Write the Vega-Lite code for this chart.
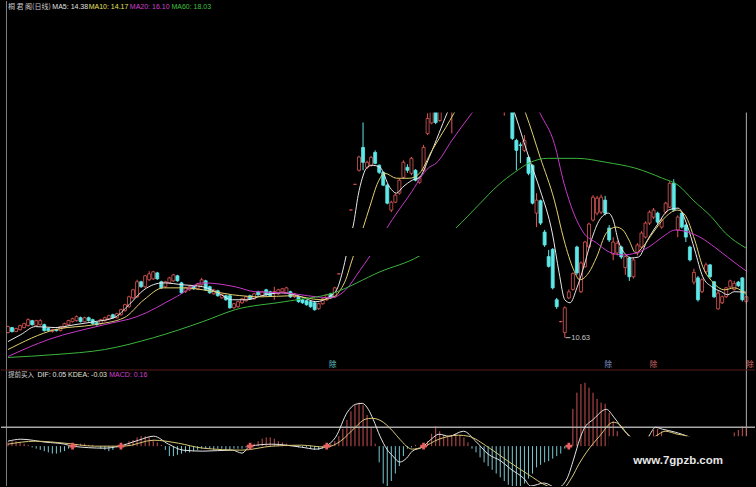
{
"$schema":"https://vega.github.io/schema/vega-lite/v6.json",
"width":756,"height":487,
"autosize":{"type":"fit","contains":"padding"},
"padding":0,
"background":"#000000",
"config":{"view":{"stroke":null},"axis":{"minExtent":0,"maxExtent":0}},
"datasets":{
"k":[
{"i":0,"o":11.05,"c":11.54,"h":11.62,"l":10.98},{"i":1,"o":11.46,"c":11.13,"h":11.52,"l":11.05},{"i":2,"o":11.13,"c":11.38,"h":11.45,"l":11.08},{"i":3,"o":11.29,"c":11.62,"h":11.7,"l":11.22},{"i":4,"o":11.46,"c":11.78,"h":11.86,"l":11.4},{"i":5,"o":11.62,"c":12.11,"h":12.22,"l":11.55},{"i":6,"o":12.03,"c":11.7,"h":12.1,"l":11.62},{"i":7,"o":11.62,"c":12.03,"h":12.1,"l":11.55},{"i":8,"o":11.7,"c":12.03,"h":12.15,"l":11.62},{"i":9,"o":11.7,"c":11.21,"h":11.78,"l":11.13},
{"i":10,"o":11.38,"c":11.21,"h":11.45,"l":11.13},{"i":11,"o":11.13,"c":11.29,"h":11.36,"l":11.05},{"i":12,"o":11.29,"c":11.21,"h":11.36,"l":11.13},{"i":13,"o":11.21,"c":11.54,"h":11.6,"l":11.15},{"i":14,"o":11.46,"c":11.78,"h":11.86,"l":11.4},{"i":15,"o":11.7,"c":12.03,"h":12.1,"l":11.62},{"i":16,"o":11.95,"c":12.19,"h":12.27,"l":11.88},{"i":17,"o":12.03,"c":12.36,"h":12.45,"l":11.95},{"i":18,"o":12.27,"c":11.95,"h":12.36,"l":11.88},{"i":19,"o":11.95,"c":12.27,"h":12.36,"l":11.88},
{"i":20,"o":12.27,"c":12.03,"h":12.36,"l":11.95},{"i":21,"o":12.11,"c":11.78,"h":12.19,"l":11.7},{"i":22,"o":11.86,"c":11.7,"h":11.95,"l":11.62},{"i":23,"o":11.78,"c":12.11,"h":12.19,"l":11.7},{"i":24,"o":12.03,"c":12.27,"h":12.36,"l":11.95},{"i":25,"o":12.19,"c":12.44,"h":12.52,"l":12.11},{"i":26,"o":12.52,"c":12.27,"h":12.6,"l":12.19},{"i":27,"o":12.27,"c":12.6,"h":12.68,"l":12.19},{"i":28,"o":12.52,"c":12.93,"h":13.01,"l":12.44},{"i":29,"o":12.85,"c":13.34,"h":13.42,"l":12.77},
{"i":30,"o":13.18,"c":13.99,"h":14.08,"l":13.09},{"i":31,"o":13.91,"c":14.57,"h":14.65,"l":13.83},{"i":32,"o":13.99,"c":15.23,"h":15.4,"l":13.91},{"i":33,"o":15.23,"c":14.82,"h":15.31,"l":14.73},{"i":34,"o":14.82,"c":15.72,"h":15.8,"l":14.73},{"i":35,"o":15.39,"c":15.88,"h":16.1,"l":15.31},{"i":36,"o":15.47,"c":16.05,"h":16.13,"l":15.39},{"i":37,"o":15.96,"c":15.47,"h":16.05,"l":15.39},{"i":38,"o":15.23,"c":14.73,"h":15.31,"l":14.65},{"i":39,"o":14.82,"c":15.23,"h":15.31,"l":14.73},
{"i":40,"o":15.14,"c":15.55,"h":15.64,"l":15.06},{"i":41,"o":15.31,"c":15.8,"h":15.88,"l":15.23},{"i":42,"o":15.72,"c":15.31,"h":15.8,"l":15.23},{"i":43,"o":15.14,"c":14.32,"h":15.23,"l":14.24},{"i":44,"o":14.41,"c":14.73,"h":14.82,"l":14.32},{"i":45,"o":14.57,"c":14.82,"h":14.9,"l":14.49},{"i":46,"o":14.9,"c":14.65,"h":14.98,"l":14.57},{"i":47,"o":14.65,"c":15.06,"h":15.14,"l":14.57},{"i":48,"o":14.98,"c":15.39,"h":15.55,"l":14.9},{"i":49,"o":15.31,"c":14.57,"h":15.39,"l":14.49},
{"i":50,"o":14.82,"c":14.32,"h":14.9,"l":14.24},{"i":51,"o":14.24,"c":14.57,"h":14.65,"l":14.16},{"i":52,"o":14.49,"c":14.08,"h":14.57,"l":14.0},{"i":53,"o":13.91,"c":14.16,"h":14.24,"l":13.83},{"i":54,"o":14.08,"c":13.75,"h":14.16,"l":13.67},{"i":55,"o":14.08,"c":13.09,"h":14.16,"l":13.01},{"i":56,"o":13.09,"c":13.42,"h":13.5,"l":13.01},{"i":57,"o":13.18,"c":13.59,"h":13.67,"l":13.09},{"i":58,"o":13.5,"c":13.83,"h":13.91,"l":13.42},{"i":59,"o":13.67,"c":13.99,"h":14.08,"l":13.59},
{"i":60,"o":14.08,"c":13.83,"h":14.16,"l":13.75},{"i":61,"o":13.83,"c":14.24,"h":14.32,"l":13.75},{"i":62,"o":14.41,"c":14.16,"h":14.49,"l":14.08},{"i":63,"o":14.08,"c":14.41,"h":14.49,"l":14.0},{"i":64,"o":14.57,"c":14.16,"h":14.65,"l":14.08},{"i":65,"o":14.41,"c":14.08,"h":14.49,"l":14.0},{"i":66,"o":14.41,"c":14.41,"h":14.82,"l":13.75},{"i":67,"o":14.24,"c":14.57,"h":14.65,"l":14.16},{"i":68,"o":14.41,"c":14.65,"h":14.73,"l":14.32},{"i":69,"o":14.32,"c":14.73,"h":14.82,"l":14.24},
{"i":70,"o":14.41,"c":13.99,"h":14.49,"l":13.91},{"i":71,"o":13.99,"c":14.24,"h":14.32,"l":13.91},{"i":72,"o":13.99,"c":13.59,"h":14.08,"l":13.5},{"i":73,"o":13.75,"c":13.5,"h":13.83,"l":13.42},{"i":74,"o":13.67,"c":13.34,"h":13.75,"l":13.26},{"i":75,"o":13.59,"c":13.18,"h":13.67,"l":13.09},{"i":76,"o":13.5,"c":12.93,"h":13.59,"l":12.85},{"i":77,"o":13.01,"c":13.42,"h":13.5,"l":12.93},{"i":78,"o":13.42,"c":13.83,"h":13.91,"l":13.34},{"i":79,"o":13.75,"c":14.16,"h":14.24,"l":13.67},
{"i":80,"o":14.24,"c":13.91,"h":14.32,"l":13.83},{"i":81,"o":13.99,"c":14.73,"h":14.82,"l":13.91},{"i":82,"o":15.88,"c":15.88,"h":15.88,"l":15.88},{"i":83,"o":17.47,"c":17.47,"h":17.47,"l":17.47},{"i":84,"o":19.22,"c":19.22,"h":19.22,"l":19.22},{"i":85,"o":21.14,"c":21.14,"h":21.14,"l":21.14},{"i":86,"o":23.25,"c":23.25,"h":23.25,"l":23.25},{"i":87,"o":24.41,"c":25.5,"h":25.6,"l":24.3},{"i":88,"o":26.29,"c":25.06,"h":28.34,"l":24.41},{"i":89,"o":24.65,"c":25.06,"h":25.2,"l":24.5},
{"i":90,"o":24.82,"c":25.47,"h":25.6,"l":24.7},{"i":91,"o":25.88,"c":24.98,"h":26.05,"l":24.9},{"i":92,"o":24.82,"c":24.24,"h":24.9,"l":24.1},{"i":93,"o":24.24,"c":23.18,"h":24.3,"l":23.1},{"i":94,"o":23.18,"c":21.7,"h":23.3,"l":21.6},{"i":95,"o":21.13,"c":21.78,"h":21.9,"l":20.96},{"i":96,"o":21.78,"c":22.36,"h":22.5,"l":21.7},{"i":97,"o":22.52,"c":23.59,"h":23.7,"l":22.4},{"i":98,"o":23.83,"c":25.06,"h":25.23,"l":23.7},{"i":99,"o":24.65,"c":24.41,"h":24.9,"l":24.2},
{"i":100,"o":24.16,"c":25.39,"h":25.5,"l":24.0},{"i":101,"o":24.41,"c":23.59,"h":24.5,"l":23.5},{"i":102,"o":23.42,"c":23.75,"h":23.9,"l":23.3},{"i":103,"o":24.41,"c":26.29,"h":26.5,"l":24.3},{"i":104,"o":27.44,"c":28.67,"h":29.1,"l":27.3},{"i":105,"o":28.3,"c":29.5,"h":30.0,"l":28.2},{"i":106,"o":29.6,"c":28.34,"h":30.2,"l":28.2},{"i":107,"o":28.5,"c":30.0,"h":30.4,"l":28.4},{"i":108,"o":29.8,"c":31.0,"h":31.3,"l":29.5},{"i":109,"o":30.5,"c":31.5,"h":32.0,"l":30.2},
{"i":110,"o":29.4,"c":31.6,"h":32.0,"l":27.44},{"i":111,"o":31.6,"c":32.5,"h":33.0,"l":31.2},{"i":112,"o":32.4,"c":33.6,"h":34.0,"l":32.0},{"i":113,"o":33.8,"c":33.0,"h":34.4,"l":32.6},{"i":114,"o":33.0,"c":34.6,"h":35.0,"l":32.8},{"i":115,"o":34.6,"c":35.8,"h":36.5,"l":34.2},{"i":116,"o":36.0,"c":34.8,"h":36.8,"l":34.4},{"i":117,"o":34.8,"c":35.9,"h":36.6,"l":34.2},{"i":118,"o":35.5,"c":34.0,"h":36.0,"l":33.6},{"i":119,"o":34.0,"c":33.0,"h":34.5,"l":32.5},
{"i":120,"o":32.8,"c":33.6,"h":34.2,"l":32.2},{"i":121,"o":33.4,"c":31.8,"h":33.8,"l":31.2},{"i":122,"o":31.6,"c":30.4,"h":32.0,"l":29.8},{"i":123,"o":29.6,"c":30.8,"h":31.4,"l":28.9},{"i":124,"o":31.0,"c":30.2,"h":31.4,"l":29.6},{"i":125,"o":30.0,"c":27.03,"h":30.3,"l":26.9},{"i":126,"o":26.86,"c":26.05,"h":27.0,"l":24.41},{"i":127,"o":26.5,"c":26.45,"h":26.7,"l":25.0},{"i":128,"o":26.05,"c":26.86,"h":27.3,"l":25.9},{"i":129,"o":25.47,"c":24.16,"h":25.6,"l":24.0},
{"i":130,"o":24.82,"c":21.7,"h":24.9,"l":21.6},{"i":131,"o":20.88,"c":21.95,"h":22.52,"l":19.73},{"i":132,"o":21.9,"c":20.06,"h":22.0,"l":19.9},{"i":133,"o":19.32,"c":18.26,"h":19.5,"l":18.1},{"i":134,"o":17.3,"c":16.5,"h":17.85,"l":16.4},{"i":135,"o":17.9,"c":14.73,"h":18.0,"l":14.6},{"i":136,"o":13.75,"c":13.18,"h":13.9,"l":13.0},{"i":137,"o":11.95,"c":11.95,"h":12.0,"l":11.9},{"i":138,"o":11.05,"c":13.09,"h":13.2,"l":10.63},{"i":139,"o":13.9,"c":14.4,"h":14.6,"l":13.8},
{"i":140,"o":14.6,"c":15.9,"h":16.0,"l":14.5},{"i":141,"o":18.09,"c":15.96,"h":18.2,"l":15.8},{"i":142,"o":14.41,"c":16.78,"h":16.9,"l":14.3},{"i":143,"o":16.46,"c":18.5,"h":18.6,"l":16.4},{"i":144,"o":18.09,"c":19.98,"h":20.1,"l":18.0},{"i":145,"o":20.31,"c":22.19,"h":22.36,"l":20.2},{"i":146,"o":20.88,"c":22.11,"h":22.3,"l":20.7},{"i":147,"o":20.96,"c":22.19,"h":22.4,"l":20.8},{"i":148,"o":21.95,"c":20.88,"h":22.3,"l":20.7},{"i":149,"o":19.65,"c":18.67,"h":19.9,"l":18.5},
{"i":150,"o":17.5,"c":18.5,"h":18.9,"l":17.0},{"i":151,"o":17.6,"c":18.4,"h":18.6,"l":17.4},{"i":152,"o":18.09,"c":17.27,"h":18.2,"l":17.1},{"i":153,"o":16.4,"c":17.3,"h":17.4,"l":15.8},{"i":154,"o":17.19,"c":15.64,"h":17.3,"l":15.3},{"i":155,"o":15.64,"c":17.03,"h":17.2,"l":15.5},{"i":156,"o":17.6,"c":18.26,"h":18.4,"l":17.4},{"i":157,"o":18.09,"c":19.24,"h":19.4,"l":18.0},{"i":158,"o":18.91,"c":20.06,"h":20.2,"l":18.8},{"i":159,"o":20.06,"c":20.96,"h":21.1,"l":19.9},
{"i":160,"o":20.55,"c":21.13,"h":21.3,"l":20.4},{"i":161,"o":20.88,"c":20.14,"h":21.0,"l":20.0},{"i":162,"o":19.73,"c":20.3,"h":20.5,"l":19.6},{"i":163,"o":20.96,"c":21.7,"h":21.8,"l":20.8},{"i":164,"o":21.37,"c":23.34,"h":23.5,"l":21.3},{"i":165,"o":23.34,"c":21.13,"h":23.67,"l":21.0},{"i":166,"o":19.49,"c":20.55,"h":20.7,"l":18.9},{"i":167,"o":20.88,"c":19.73,"h":21.0,"l":19.6},{"i":168,"o":19.9,"c":18.91,"h":20.0,"l":18.5},{"i":169,"o":18.09,"c":17.03,"h":18.2,"l":16.9},
{"i":170,"o":15.2,"c":16.0,"h":16.3,"l":15.0},{"i":171,"o":15.55,"c":13.75,"h":15.7,"l":13.6},{"i":172,"o":14.41,"c":15.39,"h":15.5,"l":14.3},{"i":173,"o":16.05,"c":16.62,"h":16.8,"l":15.9},{"i":174,"o":16.62,"c":15.64,"h":16.7,"l":15.5},{"i":175,"o":15.23,"c":13.99,"h":15.3,"l":13.9},{"i":176,"o":13.0,"c":14.3,"h":14.5,"l":12.93},{"i":177,"o":13.5,"c":14.0,"h":14.1,"l":13.4},{"i":178,"o":14.0,"c":14.73,"h":14.8,"l":13.9},{"i":179,"o":14.8,"c":15.3,"h":15.4,"l":14.7},
{"i":180,"o":14.6,"c":15.1,"h":15.3,"l":14.5},{"i":181,"o":15.2,"c":14.9,"h":15.3,"l":14.8},{"i":182,"o":15.55,"c":13.75,"h":15.6,"l":13.6},{"i":183,"o":13.6,"c":14.0,"h":14.1,"l":13.4}
],
"ma":[
{"k":"MA5","i":0,"v":10.31},{"k":"MA5","i":3.2,"v":10.88},{"k":"MA5","i":6.8,"v":11.54},{"k":"MA5","i":11.7,"v":11.46},{"k":"MA5","i":16.6,"v":11.7},{"k":"MA5","i":21.5,"v":11.95},{"k":"MA5","i":26.3,"v":12.27},{"k":"MA5","i":30.0,"v":13.34},{"k":"MA5","i":33.7,"v":14.57},{"k":"MA5","i":38.5,"v":15.14},{"k":"MA5","i":43.4,"v":14.98},{"k":"MA5","i":48.3,"v":14.82},{"k":"MA5","i":52.0,"v":14.32},{"k":"MA5","i":55.6,"v":13.75},{"k":"MA5","i":59.3,"v":13.75},{"k":"MA5","i":62.9,"v":14.08},{"k":"MA5","i":67.8,"v":14.32},{"k":"MA5","i":72.7,"v":14.0},{"k":"MA5","i":76.3,"v":13.59},{"k":"MA5","i":80.0,"v":14.08},{"k":"MA5","i":81.7,"v":14.73},{"k":"MA5","i":82.7,"v":15.8},{"k":"MA5","i":83.7,"v":17.19},{"k":"MA5","i":84.6,"v":18.67},{"k":"MA5","i":85.6,"v":19.9},{"k":"MA5","i":86.8,"v":22.36},{"k":"MA5","i":87.8,"v":23.75},{"k":"MA5","i":88.8,"v":24.57},{"k":"MA5","i":90.2,"v":24.82},{"k":"MA5","i":92.2,"v":24.65},{"k":"MA5","i":94.6,"v":23.01},{"k":"MA5","i":96.3,"v":22.52},{"k":"MA5","i":97.8,"v":23.01},{"k":"MA5","i":100.2,"v":23.59},{"k":"MA5","i":102.0,"v":23.83},{"k":"MA5","i":104.4,"v":25.47},{"k":"MA5","i":106.8,"v":27.44},{"k":"MA5","i":108.8,"v":29.08},{"k":"MA5","i":111.7,"v":30.96},{"k":"MA5","i":115.4,"v":33.42},{"k":"MA5","i":119.0,"v":34.24},{"k":"MA5","i":122.7,"v":31.78},{"k":"MA5","i":125.6,"v":29.08},{"k":"MA5","i":129.5,"v":25.06},{"k":"MA5","i":131.9,"v":22.77},{"k":"MA5","i":134.9,"v":19.24},{"k":"MA5","i":136.6,"v":15.96},{"k":"MA5","i":138.0,"v":13.75},{"k":"MA5","i":139.3,"v":13.5},{"k":"MA5","i":141.0,"v":14.73},{"k":"MA5","i":142.7,"v":16.46},{"k":"MA5","i":144.6,"v":18.67},{"k":"MA5","i":146.6,"v":20.31},{"k":"MA5","i":148.8,"v":20.88},{"k":"MA5","i":150.0,"v":20.31},{"k":"MA5","i":151.2,"v":18.67},{"k":"MA5","i":153.2,"v":17.44},{"k":"MA5","i":154.4,"v":17.19},{"k":"MA5","i":156.3,"v":17.27},{"k":"MA5","i":158.5,"v":18.67},{"k":"MA5","i":161.2,"v":20.06},{"k":"MA5","i":163.7,"v":21.13},{"k":"MA5","i":166.1,"v":21.29},{"k":"MA5","i":168.3,"v":19.9},{"k":"MA5","i":170.2,"v":17.85},{"k":"MA5","i":172.2,"v":15.64},{"k":"MA5","i":174.4,"v":14.82},{"k":"MA5","i":176.8,"v":14.41},{"k":"MA5","i":178.3,"v":14.16},{"k":"MA5","i":180.0,"v":14.41},{"k":"MA5","i":182.9,"v":14.38},
{"k":"MA10","i":0,"v":9.65},{"k":"MA10","i":11.7,"v":11.29},{"k":"MA10","i":21.5,"v":11.7},{"k":"MA10","i":28.8,"v":12.27},{"k":"MA10","i":33.7,"v":13.75},{"k":"MA10","i":38.5,"v":14.73},{"k":"MA10","i":43.4,"v":14.73},{"k":"MA10","i":48.3,"v":14.57},{"k":"MA10","i":55.6,"v":14.16},{"k":"MA10","i":62.9,"v":13.99},{"k":"MA10","i":70.2,"v":14.08},{"k":"MA10","i":77.6,"v":13.75},{"k":"MA10","i":81.2,"v":14.08},{"k":"MA10","i":82.4,"v":14.57},{"k":"MA10","i":83.7,"v":15.39},{"k":"MA10","i":84.9,"v":16.62},{"k":"MA10","i":86.1,"v":17.85},{"k":"MA10","i":87.3,"v":18.91},{"k":"MA10","i":88.0,"v":19.65},{"k":"MA10","i":89.8,"v":21.54},{"k":"MA10","i":91.7,"v":23.42},{"k":"MA10","i":93.4,"v":24.16},{"k":"MA10","i":96.3,"v":23.75},{"k":"MA10","i":99.5,"v":23.75},{"k":"MA10","i":102.0,"v":24.16},{"k":"MA10","i":105.1,"v":26.05},{"k":"MA10","i":108.5,"v":27.93},{"k":"MA10","i":110.5,"v":29.08},{"k":"MA10","i":114.1,"v":31.37},{"k":"MA10","i":119.0,"v":33.01},{"k":"MA10","i":123.9,"v":32.19},{"k":"MA10","i":128.3,"v":29.08},{"k":"MA10","i":131.9,"v":25.47},{"k":"MA10","i":135.4,"v":21.95},{"k":"MA10","i":137.8,"v":18.67},{"k":"MA10","i":140.2,"v":16.21},{"k":"MA10","i":141.7,"v":15.39},{"k":"MA10","i":143.9,"v":15.96},{"k":"MA10","i":145.9,"v":17.27},{"k":"MA10","i":148.3,"v":19.24},{"k":"MA10","i":150.7,"v":19.73},{"k":"MA10","i":152.4,"v":19.49},{"k":"MA10","i":153.9,"v":18.67},{"k":"MA10","i":155.6,"v":17.6},{"k":"MA10","i":157.3,"v":18.09},{"k":"MA10","i":159.8,"v":19.24},{"k":"MA10","i":162.9,"v":20.55},{"k":"MA10","i":165.9,"v":21.13},{"k":"MA10","i":167.8,"v":20.72},{"k":"MA10","i":170.2,"v":18.67},{"k":"MA10","i":172.2,"v":16.46},{"k":"MA10","i":174.6,"v":15.23},{"k":"MA10","i":177.6,"v":14.57},{"k":"MA10","i":180.0,"v":14.73},{"k":"MA10","i":182.9,"v":14.2},
{"k":"MA20","i":0,"v":9.08},{"k":"MA20","i":10.0,"v":10.47},{"k":"MA20","i":23.9,"v":11.7},{"k":"MA20","i":32.0,"v":12.36},{"k":"MA20","i":41.7,"v":13.99},{"k":"MA20","i":48.3,"v":15.14},{"k":"MA20","i":56.3,"v":14.82},{"k":"MA20","i":61.2,"v":14.41},{"k":"MA20","i":68.5,"v":14.32},{"k":"MA20","i":80.0,"v":13.91},{"k":"MA20","i":83.7,"v":14.57},{"k":"MA20","i":87.3,"v":16.21},{"k":"MA20","i":91.0,"v":18.01},{"k":"MA20","i":93.9,"v":19.65},{"k":"MA20","i":99.5,"v":22.36},{"k":"MA20","i":104.4,"v":24.65},{"k":"MA20","i":106.1,"v":24.98},{"k":"MA20","i":110.0,"v":26.86},{"k":"MA20","i":114.9,"v":29.08},{"k":"MA20","i":121.5,"v":31.78},{"k":"MA20","i":127.6,"v":32.19},{"k":"MA20","i":131.9,"v":29.08},{"k":"MA20","i":135.4,"v":26.62},{"k":"MA20","i":137.8,"v":23.34},{"k":"MA20","i":140.2,"v":20.88},{"k":"MA20","i":142.7,"v":19.24},{"k":"MA20","i":145.9,"v":18.42},{"k":"MA20","i":149.0,"v":17.68},{"k":"MA20","i":152.4,"v":17.44},{"k":"MA20","i":155.6,"v":17.6},{"k":"MA20","i":158.8,"v":18.09},{"k":"MA20","i":162.2,"v":18.91},{"k":"MA20","i":165.4,"v":19.49},{"k":"MA20","i":168.5,"v":19.32},{"k":"MA20","i":171.9,"v":18.83},{"k":"MA20","i":175.1,"v":18.09},{"k":"MA20","i":178.3,"v":17.27},{"k":"MA20","i":181.2,"v":16.54},{"k":"MA20","i":182.9,"v":16.13},
{"k":"MA60","i":0,"v":9.0},{"k":"MA60","i":11.7,"v":9.24},{"k":"MA60","i":23.9,"v":9.65},{"k":"MA60","i":36.1,"v":10.63},{"k":"MA60","i":48.3,"v":11.95},{"k":"MA60","i":56.3,"v":12.93},{"k":"MA60","i":68.5,"v":13.59},{"k":"MA60","i":80.7,"v":14.32},{"k":"MA60","i":92.2,"v":16.05},{"k":"MA60","i":102.0,"v":17.36},{"k":"MA60","i":111.0,"v":19.65},{"k":"MA60","i":116.6,"v":21.54},{"k":"MA60","i":121.5,"v":23.18},{"k":"MA60","i":125.6,"v":24.24},{"k":"MA60","i":129.5,"v":25.06},{"k":"MA60","i":133.7,"v":25.39},{"k":"MA60","i":141.0,"v":25.39},{"k":"MA60","i":148.3,"v":25.06},{"k":"MA60","i":155.6,"v":24.57},{"k":"MA60","i":162.2,"v":23.75},{"k":"MA60","i":166.1,"v":23.18},{"k":"MA60","i":169.8,"v":21.95},{"k":"MA60","i":174.4,"v":20.55},{"k":"MA60","i":177.8,"v":19.24},{"k":"MA60","i":182.9,"v":18.01}
],
"h":[
{"i":0,"v":0.03},{"i":1,"v":0.04},{"i":2,"v":0.04},{"i":3,"v":0.03},{"i":4,"v":0.02},{"i":5,"v":0.01},{"i":6,"v":-0.01},{"i":7,"v":-0.02},{"i":8,"v":-0.03},{"i":9,"v":-0.04},{"i":10,"v":-0.05},{"i":11,"v":-0.06},{"i":12,"v":-0.06},{"i":13,"v":-0.05},{"i":14,"v":-0.04},{"i":15,"v":-0.02},{"i":16,"v":0.0},{"i":17,"v":0.01},{"i":18,"v":0.02},{"i":19,"v":0.02},{"i":20,"v":0.01},{"i":21,"v":0.01},{"i":22,"v":0.0},{"i":23,"v":-0.02},{"i":24,"v":-0.03},{"i":25,"v":-0.04},{"i":26,"v":-0.03},{"i":27,"v":-0.01},{"i":28,"v":0.01},{"i":29,"v":0.02},{"i":30,"v":0.04},{"i":31,"v":0.05},{"i":32,"v":0.07},{"i":33,"v":0.08},{"i":34,"v":0.08},{"i":35,"v":0.07},{"i":36,"v":0.05},{"i":37,"v":0.03},{"i":38,"v":0.01},{"i":39,"v":-0.03},
{"i":40,"v":-0.08},{"i":41,"v":-0.08},{"i":42,"v":-0.07},{"i":43,"v":-0.06},{"i":44,"v":-0.05},{"i":45,"v":-0.05},{"i":46,"v":-0.04},{"i":47,"v":-0.03},{"i":48,"v":-0.02},{"i":49,"v":-0.02},{"i":50,"v":-0.02},{"i":51,"v":-0.03},{"i":52,"v":-0.02},{"i":53,"v":-0.02},{"i":54,"v":-0.03},{"i":55,"v":-0.03},{"i":56,"v":-0.02},{"i":57,"v":-0.02},{"i":58,"v":-0.02},{"i":59,"v":-0.01},{"i":60,"v":0.0},{"i":61,"v":0.02},{"i":62,"v":0.04},{"i":63,"v":0.06},{"i":64,"v":0.07},{"i":65,"v":0.07},{"i":66,"v":0.06},{"i":67,"v":0.04},{"i":68,"v":0.03},{"i":69,"v":0.02},{"i":70,"v":0.01},{"i":71,"v":0.01},{"i":72,"v":-0.01},{"i":73,"v":-0.01},{"i":74,"v":-0.01},{"i":75,"v":-0.02},{"i":76,"v":-0.03},{"i":77,"v":-0.03},{"i":78,"v":-0.02},{"i":79,"v":0.0},
{"i":80,"v":0.02},{"i":81,"v":0.04},{"i":82,"v":0.08},{"i":83,"v":0.14},{"i":84,"v":0.21},{"i":85,"v":0.28},{"i":86,"v":0.33},{"i":87,"v":0.35},{"i":88,"v":0.33},{"i":89,"v":0.25},{"i":90,"v":0.15},{"i":91,"v":0.02},{"i":92,"v":-0.13},{"i":93,"v":-0.3},{"i":94,"v":-0.33},{"i":95,"v":-0.28},{"i":96,"v":-0.22},{"i":97,"v":-0.16},{"i":98,"v":-0.08},{"i":99,"v":-0.02},{"i":100,"v":-0.01},{"i":101,"v":0.01},{"i":102,"v":0.0},{"i":103,"v":0.02},{"i":104,"v":0.04},{"i":105,"v":0.1},{"i":106,"v":0.16},{"i":107,"v":0.12},{"i":108,"v":0.09},{"i":109,"v":0.08},{"i":110,"v":0.09},{"i":111,"v":0.1},{"i":112,"v":0.09},{"i":113,"v":0.07},{"i":114,"v":0.03},{"i":115,"v":-0.02},{"i":116,"v":-0.05},{"i":117,"v":-0.09},{"i":118,"v":-0.13},{"i":119,"v":-0.16},
{"i":120,"v":-0.19},{"i":121,"v":-0.22},{"i":122,"v":-0.25},{"i":123,"v":-0.28},{"i":124,"v":-0.31},{"i":125,"v":-0.34},{"i":126,"v":-0.33},{"i":127,"v":-0.32},{"i":128,"v":-0.3},{"i":129,"v":-0.26},{"i":130,"v":-0.22},{"i":131,"v":-0.17},{"i":132,"v":-0.15},{"i":133,"v":-0.13},{"i":134,"v":-0.12},{"i":135,"v":-0.1},{"i":136,"v":-0.08},{"i":137,"v":-0.06},{"i":138,"v":-0.02},{"i":139,"v":0.02},{"i":140,"v":0.3},{"i":141,"v":0.43},{"i":142,"v":0.5},{"i":143,"v":0.51},{"i":144,"v":0.47},{"i":145,"v":0.43},{"i":146,"v":0.38},{"i":147,"v":0.35},{"i":148,"v":0.34},{"i":149,"v":0.27},{"i":150,"v":0.2},{"i":151,"v":0.12},{"i":152,"v":0.05},{"i":153,"v":0.0},{"i":154,"v":-0.05},{"i":155,"v":-0.04},{"i":156,"v":-0.02},{"i":157,"v":0.02},{"i":158,"v":0.05},{"i":159,"v":0.09},
{"i":160,"v":0.13},{"i":161,"v":0.14},{"i":162,"v":0.12},{"i":163,"v":0.07},{"i":164,"v":0.05},{"i":165,"v":0.06},{"i":166,"v":0.02},{"i":167,"v":-0.05},{"i":168,"v":-0.1},{"i":169,"v":-0.15},{"i":170,"v":-0.2},{"i":171,"v":-0.22},{"i":172,"v":-0.2},{"i":173,"v":-0.18},{"i":174,"v":-0.17},{"i":175,"v":-0.15},{"i":176,"v":-0.12},{"i":177,"v":-0.08},{"i":178,"v":-0.04},{"i":179,"v":0.02},{"i":180,"v":0.11},{"i":181,"v":0.13},{"i":182,"v":0.16},{"i":183,"v":0.16}
],
"dl":[
{"k":"DIF","i":0,"v":0.04},{"k":"DIF","i":3.2,"v":0.056},{"k":"DIF","i":9.3,"v":0.032},{"k":"DIF","i":14.1,"v":0.016},{"k":"DIF","i":15.9,"v":0.0},{"k":"DIF","i":23.9,"v":-0.016},{"k":"DIF","i":27.6,"v":0.0},{"k":"DIF","i":32.4,"v":0.048},{"k":"DIF","i":36.1,"v":0.08},{"k":"DIF","i":39.8,"v":0.016},{"k":"DIF","i":43.4,"v":-0.032},{"k":"DIF","i":48.3,"v":-0.04},{"k":"DIF","i":55.6,"v":-0.032},{"k":"DIF","i":58.0,"v":-0.056},{"k":"DIF","i":60.0,"v":0.0},{"k":"DIF","i":65.4,"v":0.016},{"k":"DIF","i":72.7,"v":-0.008},{"k":"DIF","i":76.3,"v":-0.024},{"k":"DIF","i":78.8,"v":0.0},{"k":"DIF","i":81.2,"v":0.072},{"k":"DIF","i":84.1,"v":0.272},{"k":"DIF","i":86.1,"v":0.336},{"k":"DIF","i":87.8,"v":0.344},{"k":"DIF","i":89.3,"v":0.296},{"k":"DIF","i":90.5,"v":0.216},{"k":"DIF","i":92.2,"v":0.08},{"k":"DIF","i":93.9,"v":-0.024},{"k":"DIF","i":95.4,"v":-0.08},{"k":"DIF","i":97.1,"v":-0.128},{"k":"DIF","i":98.8,"v":-0.096},{"k":"DIF","i":100.2,"v":-0.04},{"k":"DIF","i":102.7,"v":-0.008},{"k":"DIF","i":104.9,"v":0.056},{"k":"DIF","i":106.8,"v":0.096},{"k":"DIF","i":109.3,"v":0.08},{"k":"DIF","i":112.9,"v":0.12},{"k":"DIF","i":115.9,"v":0.04},{"k":"DIF","i":119.0,"v":-0.064},{"k":"DIF","i":122.2,"v":-0.12},{"k":"DIF","i":124.6,"v":-0.184},{"k":"DIF","i":128.0,"v":-0.264},{"k":"DIF","i":129.5,"v":-0.32},{"k":"DIF","i":132.9,"v":-0.296},{"k":"DIF","i":136.1,"v":-0.336},{"k":"DIF","i":138.5,"v":-0.264},{"k":"DIF","i":140.2,"v":-0.104},{"k":"DIF","i":141.7,"v":0.056},{"k":"DIF","i":142.7,"v":0.136},{"k":"DIF","i":145.1,"v":0.216},{"k":"DIF","i":148.3,"v":0.296},{"k":"DIF","i":150.2,"v":0.232},{"k":"DIF","i":152.4,"v":0.136},{"k":"DIF","i":154.4,"v":0.072},{"k":"DIF","i":156.8,"v":0.016},{"k":"DIF","i":158.8,"v":0.08},{"k":"DIF","i":160.5,"v":0.152},{"k":"DIF","i":162.2,"v":0.136},{"k":"DIF","i":165.4,"v":0.112},{"k":"DIF","i":168.5,"v":0.072},{"k":"DIF","i":171.5,"v":-0.024},{"k":"DIF","i":175.1,"v":-0.088},{"k":"DIF","i":178.8,"v":-0.04},{"k":"DIF","i":182.9,"v":0.048},
{"k":"DEA","i":0,"v":0.016},{"k":"DEA","i":6.8,"v":0.04},{"k":"DEA","i":14.1,"v":0.024},{"k":"DEA","i":21.5,"v":0.0},{"k":"DEA","i":28.8,"v":0.0},{"k":"DEA","i":36.1,"v":0.048},{"k":"DEA","i":42.2,"v":0.024},{"k":"DEA","i":48.3,"v":-0.016},{"k":"DEA","i":58.0,"v":-0.032},{"k":"DEA","i":65.4,"v":0.0},{"k":"DEA","i":72.7,"v":0.008},{"k":"DEA","i":78.8,"v":-0.008},{"k":"DEA","i":82.4,"v":0.04},{"k":"DEA","i":86.1,"v":0.152},{"k":"DEA","i":88.5,"v":0.216},{"k":"DEA","i":90.2,"v":0.224},{"k":"DEA","i":92.2,"v":0.208},{"k":"DEA","i":95.4,"v":0.12},{"k":"DEA","i":97.1,"v":0.056},{"k":"DEA","i":100.2,"v":-0.024},{"k":"DEA","i":102.7,"v":-0.008},{"k":"DEA","i":106.8,"v":0.056},{"k":"DEA","i":111.7,"v":0.088},{"k":"DEA","i":114.1,"v":0.08},{"k":"DEA","i":119.0,"v":-0.008},{"k":"DEA","i":123.9,"v":-0.12},{"k":"DEA","i":128.8,"v":-0.224},{"k":"DEA","i":133.7,"v":-0.32},{"k":"DEA","i":137.3,"v":-0.344},{"k":"DEA","i":139.8,"v":-0.248},{"k":"DEA","i":141.5,"v":-0.144},{"k":"DEA","i":143.4,"v":-0.048},{"k":"DEA","i":146.6,"v":0.08},{"k":"DEA","i":150.0,"v":0.192},{"k":"DEA","i":151.5,"v":0.176},{"k":"DEA","i":153.9,"v":0.08},{"k":"DEA","i":156.8,"v":0.016},{"k":"DEA","i":160.5,"v":0.08},{"k":"DEA","i":162.9,"v":0.12},{"k":"DEA","i":165.9,"v":0.096},{"k":"DEA","i":168.5,"v":0.08},{"k":"DEA","i":172.2,"v":-0.024},{"k":"DEA","i":177.1,"v":-0.088},{"k":"DEA","i":182.9,"v":-0.032}
],
"cx":[{"i":16},{"i":28},{"i":60},{"i":79},{"i":103},{"i":139}]
},
"layer":[
{"layer":[
{"data":{"name":"k"},"mark":{"type":"rule","strokeWidth":1,"clip":true},
 "encoding":{"x":{"field":"i","type":"quantitative","scale":{"domain":[-0.49,183.9],"nice":false,"zero":false},"axis":null},
 "y":{"field":"l","type":"quantitative","scale":{"domain":[-1.58,38.34],"nice":false,"zero":false},"axis":{"orient":"left","grid":true,"gridColor":"#3c1212","gridWidth":1,"values":[9.89,11.94,14.0,16.04,18.09,20.14,22.19,24.24,26.29,28.33,30.38,32.43,34.48,36.53],"labels":false,"ticks":false,"domain":false,"title":null,"minExtent":0,"maxExtent":0}},
 "y2":{"field":"h"},
 "color":{"condition":{"test":"datum.c >= datum.o","value":"#e05858"},"value":"#5ee8e8"}}},
{"data":{"name":"k"},"mark":{"type":"bar","orient":"vertical","width":3,"strokeWidth":0.8,"clip":true},
 "encoding":{"x":{"field":"i","type":"quantitative","scale":{"domain":[-0.49,183.9],"nice":false,"zero":false},"axis":null},
 "y":{"field":"o","type":"quantitative","scale":{"domain":[-1.58,38.34],"nice":false,"zero":false},"axis":null},
 "y2":{"field":"c"},
 "fill":{"condition":{"test":"datum.c >= datum.o","value":"#000000"},"value":"#5ee8e8"},
 "stroke":{"condition":{"test":"datum.c >= datum.o","value":"#e05858"},"value":"#5ee8e8"}}},
{"data":{"name":"ma"},"mark":{"type":"line","strokeWidth":1,"interpolate":"monotone","clip":true},
 "encoding":{"x":{"field":"i","type":"quantitative","scale":{"domain":[-0.49,183.9],"nice":false,"zero":false},"axis":null},
 "y":{"field":"v","type":"quantitative","scale":{"domain":[-1.58,38.34],"nice":false,"zero":false},"axis":null},
 "color":{"field":"k","type":"nominal","scale":{"domain":["MA5","MA10","MA20","MA60"],"range":["#e8e8e8","#e0d070","#c838c8","#3cb43c"]},"legend":null}}},
{"data":{"values":[{}]},"mark":{"type":"rule","color":"#b0b0b0","strokeWidth":1},
 "encoding":{"x":{"datum":183,"type":"quantitative"}}},
{"data":{"values":[{}]},"mark":{"type":"rule","color":"#808080","strokeWidth":1},
 "encoding":{"x":{"datum":-0.37,"type":"quantitative"}}},
{"data":{"values":[{}]},"mark":{"type":"rect","fill":"#000000"},
 "encoding":{"x":{"datum":103.6,"type":"quantitative"},"x2":{"datum":183.9},"y":{"datum":29.16,"type":"quantitative"},"y2":{"datum":38.34}}},
{"data":{"values":[{}]},"mark":{"type":"rect","fill":"#000000"},
 "encoding":{"x":{"datum":82.2,"type":"quantitative"},"x2":{"datum":111.7},"y":{"datum":17.36,"type":"quantitative"},"y2":{"datum":19.65}}},
{"data":{"values":[{}]},"mark":{"type":"rule","color":"#c8c8c8","strokeWidth":1},
 "encoding":{"x":{"datum":138.2,"type":"quantitative"},"x2":{"datum":139.4},"y":{"datum":10.63,"type":"quantitative"}}},
{"data":{"values":[{}]},"mark":{"type":"text","text":"10.63","align":"left","baseline":"middle","fontSize":7.5,"font":"Liberation Sans","color":"#c8c8c8"},
 "encoding":{"x":{"datum":139.6,"type":"quantitative"},"y":{"datum":10.63,"type":"quantitative"}}},
{"data":{"values":[{}]},"mark":{"type":"text","text":"桐 君 阁(日线)","align":"left","baseline":"middle","fontSize":7,"font":"Noto Sans CJK SC","color":"#c8c8c8"},
 "encoding":{"x":{"datum":0,"type":"quantitative"},"y":{"datum":37.85,"type":"quantitative"}}},
{"data":{"values":[{}]},"mark":{"type":"text","text":"MA5: 14.38","align":"left","baseline":"middle","fontSize":7,"font":"Liberation Sans","color":"#e0e0e0"},
 "encoding":{"x":{"datum":11,"type":"quantitative"},"y":{"datum":37.85,"type":"quantitative"}}},
{"data":{"values":[{}]},"mark":{"type":"text","text":"MA10: 14.17","align":"left","baseline":"middle","fontSize":7,"font":"Liberation Sans","color":"#e8e060"},
 "encoding":{"x":{"datum":20,"type":"quantitative"},"y":{"datum":37.85,"type":"quantitative"}}},
{"data":{"values":[{}]},"mark":{"type":"text","text":"MA20: 16.10","align":"left","baseline":"middle","fontSize":7,"font":"Liberation Sans","color":"#d040d0"},
 "encoding":{"x":{"datum":30.2,"type":"quantitative"},"y":{"datum":37.85,"type":"quantitative"}}},
{"data":{"values":[{}]},"mark":{"type":"text","text":"MA60: 18.03","align":"left","baseline":"middle","fontSize":7,"font":"Liberation Sans","color":"#40c040"},
 "encoding":{"x":{"datum":40.5,"type":"quantitative"},"y":{"datum":37.85,"type":"quantitative"}}},
{"data":{"values":[{}]},"mark":{"type":"text","text":"除","align":"center","baseline":"middle","fontSize":7.5,"font":"Noto Sans CJK SC","color":"#60c8c8"},
 "encoding":{"x":{"datum":80.5,"type":"quantitative"},"y":{"datum":8.34,"type":"quantitative"}}},
{"data":{"values":[{}]},"mark":{"type":"text","text":"除","align":"center","baseline":"middle","fontSize":7.5,"font":"Noto Sans CJK SC","color":"#8898d0"},
 "encoding":{"x":{"datum":148.8,"type":"quantitative"},"y":{"datum":8.34,"type":"quantitative"}}},
{"data":{"values":[{}]},"mark":{"type":"text","text":"除","align":"center","baseline":"middle","fontSize":7.5,"font":"Noto Sans CJK SC","color":"#d86868"},
 "encoding":{"x":{"datum":160,"type":"quantitative"},"y":{"datum":8.34,"type":"quantitative"}}},
{"data":{"values":[{}]},"mark":{"type":"text","text":"除","align":"left","baseline":"middle","fontSize":7.5,"font":"Noto Sans CJK SC","color":"#d86868","clip":true},
 "encoding":{"x":{"datum":183.0,"type":"quantitative"},"y":{"datum":8.34,"type":"quantitative"}}}
]},
{"layer":[
{"data":{"name":"h"},"mark":{"type":"rule","strokeWidth":1,"clip":true},
 "encoding":{"x":{"field":"i","type":"quantitative","scale":{"domain":[-0.49,183.9],"nice":false,"zero":false},"axis":null},
 "y":{"field":"v","type":"quantitative","scale":{"domain":[-0.32,3.576],"nice":false,"zero":false},"axis":{"orient":"right","grid":true,"gridColor":"#2e0e0e","gridWidth":1,"values":[0.48,0.296,-0.16],"labels":false,"ticks":false,"domain":false,"title":null,"minExtent":0,"maxExtent":0}},
 "y2":{"datum":0},
 "color":{"condition":{"test":"datum.v >= 0","value":"#c85050"},"value":"#78c8d0"}}},
{"data":{"values":[{}]},"mark":{"type":"rule","color":"#a8a8a8","strokeWidth":1.5},
 "encoding":{"y":{"datum":0.152,"type":"quantitative","scale":{"domain":[-0.32,3.576],"nice":false,"zero":false}}}},
{"data":{"name":"dl"},"mark":{"type":"line","strokeWidth":1,"interpolate":"monotone","clip":true},
 "encoding":{"x":{"field":"i","type":"quantitative","scale":{"domain":[-0.49,183.9],"nice":false,"zero":false},"axis":null},
 "y":{"field":"v","type":"quantitative","scale":{"domain":[-0.32,3.576],"nice":false,"zero":false},"axis":null},
 "stroke":{"field":"k","type":"nominal","scale":{"domain":["DIF","DEA"],"range":["#e4e4e4","#d8c878"]},"legend":null}}},
{"data":{"name":"cx"},"mark":{"type":"point","shape":"cross","filled":true,"size":45,"color":"#e86060","opacity":1},
 "encoding":{"x":{"field":"i","type":"quantitative","scale":{"domain":[-0.49,183.9],"nice":false,"zero":false},"axis":null},
 "y":{"datum":0,"type":"quantitative","scale":{"domain":[-0.32,3.576],"nice":false,"zero":false}}}},
{"data":{"values":[{}]},"mark":{"type":"rect","fill":"#000000"},
 "encoding":{"x":{"datum":148.8,"type":"quantitative"},"x2":{"datum":183.9},"y":{"datum":-0.32,"type":"quantitative"},"y2":{"datum":0.08}}},
{"data":{"values":[{}]},"mark":{"type":"text","text":"www.7gpzb.com","align":"center","baseline":"middle","fontSize":11.5,"fontWeight":"bold","font":"Liberation Sans","color":"#e6e6e6"},
 "encoding":{"x":{"datum":166.1,"type":"quantitative"},"y":{"datum":-0.12,"type":"quantitative"}}},
{"data":{"values":[{}]},"mark":{"type":"rule","color":"#5a1a1a","strokeWidth":1},
 "encoding":{"y":{"datum":0.612,"type":"quantitative"}}},
{"data":{"values":[{}]},"mark":{"type":"text","text":"提前买入","align":"left","baseline":"middle","fontSize":6.5,"font":"Noto Sans CJK SC","color":"#d0d0d0"},
 "encoding":{"x":{"datum":0,"type":"quantitative"},"y":{"datum":0.57,"type":"quantitative"}}},
{"data":{"values":[{}]},"mark":{"type":"text","text":"DIF: 0.05","align":"left","baseline":"middle","fontSize":7,"font":"Liberation Sans","color":"#e0e0e0"},
 "encoding":{"x":{"datum":7.3,"type":"quantitative"},"y":{"datum":0.57,"type":"quantitative"}}},
{"data":{"values":[{}]},"mark":{"type":"text","text":"KDEA: -0.03","align":"left","baseline":"middle","fontSize":7,"font":"Liberation Sans","color":"#e0e0d0"},
 "encoding":{"x":{"datum":14.9,"type":"quantitative"},"y":{"datum":0.57,"type":"quantitative"}}},
{"data":{"values":[{}]},"mark":{"type":"text","text":"MACD: 0.16","align":"left","baseline":"middle","fontSize":7,"font":"Liberation Sans","color":"#d040d0"},
 "encoding":{"x":{"datum":25.1,"type":"quantitative"},"y":{"datum":0.57,"type":"quantitative"}}}
]}
],
"resolve":{"scale":{"y":"independent"}}
}
